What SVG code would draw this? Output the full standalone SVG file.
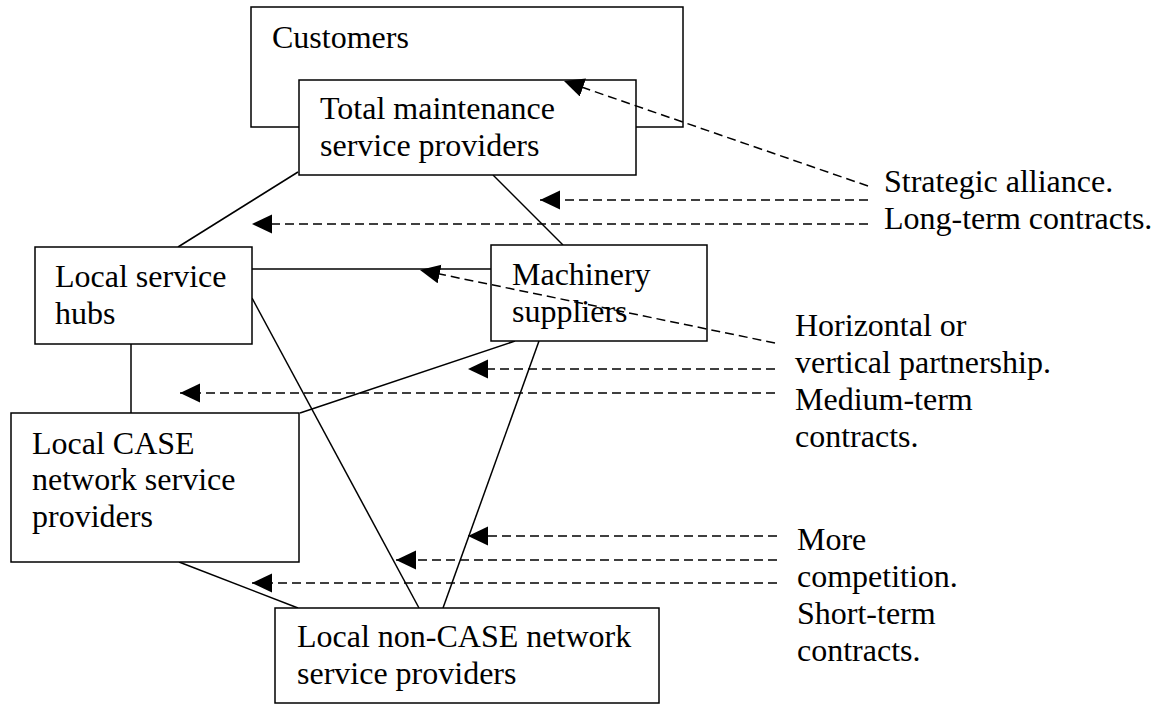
<svg xmlns="http://www.w3.org/2000/svg" width="1166" height="704" viewBox="0 0 1166 704">
<style>
.box{fill:#fff;stroke:#000;stroke-width:1.5}
.t{font-family:"Liberation Serif","Times New Roman",serif;font-size:32px;fill:#000}
.sl{stroke:#000;stroke-width:1.5;fill:none}
.dl{stroke:#000;stroke-width:1.5;fill:none;stroke-dasharray:9 5;marker-end:url(#ah)}
</style>
<defs>
<marker id="ah" markerWidth="21" markerHeight="21" refX="20" refY="9.5" orient="auto" markerUnits="userSpaceOnUse">
<path d="M0,0 L20,9.5 L0,19 z" fill="#000"/>
</marker>
</defs>
<rect width="1166" height="704" fill="#fff"/>
<g id="customers">
<rect class="box" x="251" y="7" width="432" height="120"/>
<text class="t" x="272" y="48">Customers</text>
</g>
<g id="connectors-solid">
<line class="sl" x1="298" y1="172" x2="178" y2="247"/>
<line class="sl" x1="493" y1="175" x2="563" y2="245"/>
<line class="sl" x1="252" y1="269" x2="491" y2="269"/>
<line class="sl" x1="252" y1="298" x2="419" y2="608"/>
<line class="sl" x1="131" y1="344" x2="131" y2="413"/>
<line class="sl" x1="515" y1="341" x2="300" y2="413"/>
<line class="sl" x1="539" y1="341" x2="443" y2="608"/>
<line class="sl" x1="179" y1="562" x2="298" y2="608"/>
</g>
<g id="total">
<rect class="box" x="299" y="80" width="337" height="95"/>
<text class="t" x="320" y="119">Total maintenance</text>
<text class="t" x="320" y="156">service providers</text>
</g>
<g id="hubs">
<rect class="box" x="35" y="247" width="217" height="97"/>
<text class="t" x="55" y="287">Local service</text>
<text class="t" x="55" y="324">hubs</text>
</g>
<g id="machinery">
<rect class="box" x="491" y="245" width="216" height="96"/>
<text class="t" x="512" y="285">Machinery</text>
<text class="t" x="512" y="322">suppliers</text>
</g>
<g id="case">
<rect class="box" x="11" y="413" width="288" height="149"/>
<text class="t" x="32" y="454">Local CASE</text>
<text class="t" x="32" y="490">network service</text>
<text class="t" x="32" y="527">providers</text>
</g>
<g id="noncase">
<rect class="box" x="275" y="608" width="384" height="95"/>
<text class="t" x="297" y="647">Local non-CASE network</text>
<text class="t" x="297" y="684">service providers</text>
</g>
<g id="connectors-dashed">
<line class="dl" x1="868" y1="186" x2="564" y2="81"/>
<line class="dl" x1="868" y1="200" x2="540" y2="200"/>
<line class="dl" x1="868" y1="224" x2="252" y2="224"/>
<line class="dl" x1="775" y1="343" x2="420" y2="270"/>
<line class="dl" x1="775" y1="369" x2="468" y2="369"/>
<line class="dl" x1="775" y1="393" x2="180" y2="393"/>
<line class="dl" x1="777" y1="536" x2="468" y2="536"/>
<line class="dl" x1="777" y1="560" x2="396" y2="560"/>
<line class="dl" x1="777" y1="583" x2="252" y2="583"/>
</g>
<g id="labels">
<text class="t" x="884" y="192">Strategic alliance.</text>
<text class="t" x="884" y="229">Long-term contracts.</text>
<text class="t" x="795" y="336">Horizontal or</text>
<text class="t" x="795" y="373">vertical partnership.</text>
<text class="t" x="795" y="410">Medium-term</text>
<text class="t" x="795" y="447">contracts.</text>
<text class="t" x="797" y="550">More</text>
<text class="t" x="797" y="587">competition.</text>
<text class="t" x="797" y="624">Short-term</text>
<text class="t" x="797" y="661">contracts.</text>
</g>
</svg>
